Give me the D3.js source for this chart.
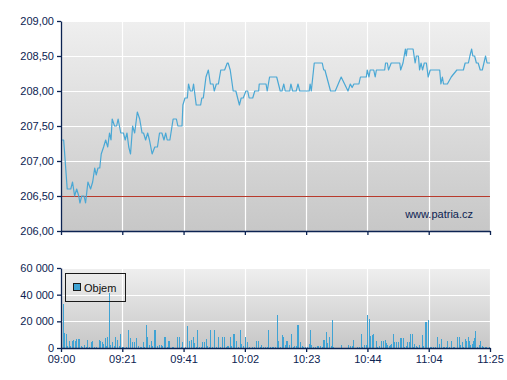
<!DOCTYPE html>
<html>
<head>
<meta charset="utf-8">
<script src="https://cdn.jsdelivr.net/npm/d3@7"></script>
<style>
    body { margin: 0; background: #ffffff; }
    svg { display: block; font-family: "Liberation Sans", Arial, sans-serif; }
</style>
</head>
<body>
<div id="chart"></div>
<script>
// x labels and ticks
var timeLabels = ["09:00", "09:21", "09:41", "10:02", "10:23", "10:44", "11:04", "11:25"];
var sessionMinutes = 145;
var priceTicks = [206, 206.5, 207, 207.5, 208, 208.5, 209];
var volumeTicks = [0, 20000, 40000, 60000];
var referencePrice = 206.5;

// price line, minutes after 09:00
var priceTimes = [0, 0.9, 2.1, 3.3, 3.9, 4.6, 5.3, 6.0, 6.4, 7.0, 7.8, 8.3, 9.1, 10.0, 10.7, 11.4, 11.9, 12.5, 13.1, 13.6,
    14.4, 15.1, 15.8, 16.4, 16.9, 17.3, 18.1, 18.8, 19.3, 20.2, 21.1, 21.7, 22.3, 22.9, 23.5, 24.2, 24.9, 25.8, 26.6, 27.4,
    27.9, 28.6, 29.3, 29.9, 30.8, 31.7, 32.6, 33.3, 34.1, 34.8, 35.4, 35.9, 36.8, 37.9, 39.0, 39.5, 40.9, 41.2, 41.9, 42.7,
    43.1, 43.7, 44.4, 44.8, 45.7, 47.2, 47.6, 48.1, 49.0, 49.8, 50.5, 51.4, 51.8, 52.5, 53.2, 54.0, 55.3, 56.2, 56.5, 57.2,
    58.2, 59.1, 60.3, 60.9, 61.6, 62.5, 63.1, 63.6, 64.8, 65.5, 66.8, 67.0, 69.3, 69.7, 70.5, 72.9, 74.1, 74.7, 75.3, 75.8,
    77.3, 77.7, 78.3, 79.5, 80.1, 80.7, 83.9, 84.2, 84.6, 85.6, 88.3, 88.8, 89.2, 91.1, 92.7, 94.7, 97.0, 97.8, 98.4, 99.0,
    100.7, 101.2, 103.2, 103.5, 104.1, 104.5, 105.7, 106.2, 106.6, 109.4, 109.7, 110.3, 110.7, 111.6, 114.5, 114.8, 115.6, 116.4, 116.7, 117.0,
    119.0, 119.7, 120.1, 120.8, 121.2, 121.7, 122.2, 122.8, 123.5, 124.1, 124.8, 128.0, 128.4, 128.9, 129.3, 130.6, 131.9, 133.8, 136.0, 136.6,
    137.7, 138.2, 138.8, 139.2, 139.8, 140.4, 141.0, 141.7, 142.4, 143.5, 144.0, 145.0];
var prices = [207.3, 207.3, 206.6, 206.6, 206.7, 206.5, 206.6, 206.5, 206.4, 206.5, 206.5, 206.4, 206.7, 206.6, 206.7, 206.9, 206.8, 206.9, 206.9, 207.1,
    207.2, 207.3, 207.2, 207.4, 207.3, 207.6, 207.5, 207.5, 207.6, 207.4, 207.4, 207.3, 207.4, 207.2, 207.1, 207.5, 207.4, 207.7, 207.6, 207.4,
    207.4, 207.3, 207.4, 207.3, 207.1, 207.2, 207.2, 207.4, 207.4, 207.3, 207.4, 207.3, 207.3, 207.6, 207.6, 207.5, 207.5, 207.8, 207.9, 207.9,
    208.1, 208.0, 208.0, 208.1, 207.8, 207.8, 207.9, 207.9, 208.2, 208.3, 208.1, 208.1, 208.0, 208.1, 208.1, 208.3, 208.3, 208.4, 208.4, 208.3,
    208.0, 208.0, 207.8, 207.9, 207.9, 208.0, 208.0, 207.9, 207.9, 208.0, 208.0, 208.1, 208.1, 208.0, 208.2, 208.2, 208.0, 208.0, 208.1, 208.0,
    208.0, 208.1, 208.0, 208.0, 208.1, 208.0, 208.0, 208.1, 208.0, 208.4, 208.4, 208.3, 208.3, 208.0, 208.0, 208.2, 208.0, 208.1, 208.05, 208.1,
    208.1, 208.2, 208.2, 208.3, 208.2, 208.3, 208.3, 208.2, 208.3, 208.3, 208.4, 208.4, 208.3, 208.4, 208.4, 208.3, 208.4, 208.6, 208.5, 208.6,
    208.6, 208.4, 208.5, 208.5, 208.3, 208.4, 208.3, 208.4, 208.4, 208.2, 208.3, 208.3, 208.1, 208.2, 208.1, 208.1, 208.2, 208.3, 208.3, 208.4,
    208.4, 208.5, 208.6, 208.5, 208.5, 208.4, 208.4, 208.3, 208.3, 208.5, 208.4, 208.4];

// volume bars, minutes after 09:00
var volumeTimes = [0.0, 0.8, 1.1, 1.7, 2.0, 2.7, 3.2, 3.8, 4.2, 4.7, 5.2, 5.9, 6.2, 6.8, 7.2, 7.8, 8.3, 8.9, 9.6, 10.1,
    10.5, 11.2, 11.9, 12.8, 13.2, 13.7, 14.2, 14.8, 15.3, 15.7, 16.3, 16.6, 17.2, 17.9, 18.4, 18.9, 19.5, 19.9, 20.6, 21.1,
    21.9, 22.8, 23.3, 24.0, 24.7, 25.2, 25.9, 26.6, 27.0, 27.6, 28.1, 28.6, 29.2, 29.7, 30.3, 30.8, 31.4, 31.8, 32.6, 33.1,
    33.7, 34.2, 34.8, 35.1, 35.7, 36.0, 36.5, 37.4, 37.9, 39.3, 39.8, 40.4, 41.0, 41.8, 42.7, 43.1, 43.8, 44.1, 44.7, 45.0,
    45.6, 46.0, 46.7, 47.2, 47.7, 48.2, 48.9, 49.3, 49.9, 50.3, 50.9, 51.8, 52.3, 53.1, 53.7, 54.5, 55.0, 55.7, 56.2, 56.6,
    57.0, 57.5, 58.1, 58.4, 59.2, 59.8, 60.5, 60.9, 61.5, 62.3, 62.9, 63.6, 64.4, 65.2, 65.9, 66.5, 67.1, 67.7, 68.3, 69.1,
    69.6, 70.0, 70.6, 71.2, 71.7, 72.4, 73.0, 73.4, 74.0, 74.7, 75.0, 75.7, 76.1, 76.5, 77.0, 77.7, 78.3, 78.7, 79.4, 79.7,
    80.1, 80.7, 81.3, 81.9, 82.4, 83.0, 83.8, 84.2, 84.6, 85.2, 85.9, 86.5, 87.0, 87.6, 88.1, 88.5, 88.8, 89.6, 90.0, 90.6,
    91.2, 91.7, 92.0, 94.8, 97.1, 97.7, 98.2, 98.6, 100.1, 100.7, 101.3, 101.8, 102.4, 103.0, 103.4, 104.2, 104.5, 105.2, 105.5, 106.3,
    106.8, 107.5, 108.2, 108.7, 109.4, 109.8, 110.3, 110.7, 111.3, 111.7, 112.3, 112.6, 113.3, 113.8, 114.6, 115.0, 115.5, 116.0, 116.6, 117.0,
    117.7, 118.0, 118.6, 119.1, 119.4, 120.0, 120.4, 121.1, 121.9, 122.3, 122.9, 123.2, 123.9, 124.2, 124.7, 125.1, 125.8, 126.5, 127.2, 127.7,
    128.3, 129.0, 129.4, 130.0, 130.6, 131.1, 131.9, 132.4, 133.0, 133.9, 134.4, 134.9, 135.5, 136.0, 136.5, 137.0, 137.5, 137.9, 138.2, 138.8,
    139.1, 139.6, 140.0, 140.5, 141.2, 141.6, 142.2, 142.7, 143.3, 143.8, 144.5];
var volumes = [5500, 33000, 11500, 10500, 1500, 5200, 1500, 5500, 6000, 5500, 6500, 6500, 6500, 1500, 700, 2200, 1000, 5700, 1000, 4200,
    5500, 700, 700, 6000, 5200, 4700, 3200, 7200, 1700, 8500, 41500, 2200, 4700, 1700, 8000, 6000, 1200, 10500, 700, 700,
    700, 13500, 7500, 4700, 4700, 7200, 1700, 500, 1000, 4500, 700, 17000, 8000, 2200, 5000, 1500, 13500, 13500, 1200, 2200,
    2200, 1500, 8000, 8000, 1000, 5200, 5200, 700, 700, 8000, 8000, 1000, 4500, 1000, 16500, 5500, 6000, 6000, 8000, 3500,
    1000, 13500, 700, 700, 4500, 4500, 6500, 1500, 1000, 13500, 1000, 13500, 1000, 8000, 700, 8000, 8000, 1000, 1500, 1500,
    8000, 1500, 10500, 10500, 5500, 1000, 13500, 3000, 1500, 8000, 4500, 700, 700, 1000, 5500, 5500, 1000, 2200, 700, 700,
    1000, 13500, 700, 700, 700, 700, 24700, 5500, 700, 9700, 8000, 2200, 5500, 5500, 2200, 10500, 1000, 1200, 1200, 17000,
    17000, 4500, 1200, 700, 700, 700, 3000, 13500, 2200, 1000, 1000, 1500, 1500, 1500, 1000, 6000, 6000, 11700, 4000, 8000,
    1500, 21000, 1000, 2200, 2000, 1500, 1500, 6000, 700, 700, 10500, 700, 2200, 2200, 24700, 21700, 9000, 9700, 10500, 5500,
    700, 1500, 5500, 5500, 6000, 3500, 2200, 1500, 2200, 2700, 10500, 4700, 4500, 4500, 7500, 7500, 7500, 700, 1500, 4500,
    4500, 10500, 10500, 1000, 3000, 1500, 700, 2000, 9700, 1500, 19700, 19700, 700, 21000, 700, 700, 700, 700, 8000, 3200,
    6500, 1000, 700, 700, 5500, 700, 5500, 700, 700, 8000, 8000, 2000, 4500, 700, 6500, 5500, 8000, 5500, 2500, 3000,
    5500, 7500, 13000, 1000, 2000, 5500, 1500, 1000, 700, 700, 1000];

var width = 507,
    height = 380;
var plotLeft = 61,
    plotRight = 490;
var priceTop = 21,
    priceBottom = 231,
    volumeTop = 268,
    volumeBottom = 348;
var navy = "#0c2352";

var locale = d3.formatLocale({decimal: ",", thousands: " ", grouping: [3], currency: ["", ""]});
var priceFormat = locale.format(".2f");
var volumeFormat = locale.format(",d");

var svg = d3.select("#chart").append("svg")
            .attr("width", width)
            .attr("height", height);

var defs = svg.append("defs");
var grad = defs.append("linearGradient")
            .attr("id", "panelGrad")
            .attr("x1", 0).attr("y1", 0)
            .attr("x2", 0).attr("y2", 1);
grad.append("stop").attr("offset", "0%").attr("stop-color", "#efefef");
grad.append("stop").attr("offset", "100%").attr("stop-color", "#c7c7c7");

var x = d3.scaleLinear()
            .domain([0, sessionMinutes])
            .range([plotLeft, plotRight]);
var timeTicks = timeLabels.map(function(d, i) {
    return i * sessionMinutes / (timeLabels.length - 1);
});
var yPrice = d3.scaleLinear()
            .domain([priceTicks[0], priceTicks[priceTicks.length - 1]])
            .range([priceBottom, priceTop]);
var yVolume = d3.scaleLinear()
            .domain([volumeTicks[0], volumeTicks[volumeTicks.length - 1]])
            .range([volumeBottom, volumeTop]);

/* panel backgrounds and grid */
function drawPanel(top, bottom, yScale, yTicks) {
    svg.append("rect")
        .attr("x", plotLeft)
        .attr("y", top)
        .attr("width", plotRight - plotLeft)
        .attr("height", bottom - top)
        .attr("fill", "url(#panelGrad)");
    var grid = svg.append("g").attr("stroke", "#ffffff").attr("stroke-width", 1.2);
    grid.selectAll(".hgrid")
        .data(yTicks.slice(1))
        .enter().append("line")
        .attr("x1", plotLeft).attr("x2", plotRight)
        .attr("y1", function(d) { return Math.round(yScale(d)) + 0.5; })
        .attr("y2", function(d) { return Math.round(yScale(d)) + 0.5; });
    grid.selectAll(".vgrid")
        .data(timeTicks.slice(1))
        .enter().append("line")
        .attr("y1", top).attr("y2", bottom)
        .attr("x1", function(d) { return Math.round(x(d)) + 0.5; })
        .attr("x2", function(d) { return Math.round(x(d)) + 0.5; });
}
drawPanel(priceTop, priceBottom, yPrice, priceTicks);
drawPanel(volumeTop, volumeBottom, yVolume, volumeTicks);

// reference line
svg.append("line")
    .attr("x1", plotLeft).attr("x2", plotRight)
    .attr("y1", Math.round(yPrice(referencePrice)) + 0.5)
    .attr("y2", Math.round(yPrice(referencePrice)) + 0.5)
    .attr("stroke", "#b83a2c")
    .attr("stroke-width", 1);

// price line
var line = d3.line()
            .x(function(d, i) { return x(priceTimes[i]); })
            .y(function(d) { return yPrice(d); });
svg.append("path")
    .datum(prices)
    .attr("d", line)
    .attr("fill", "none")
    .attr("stroke", "#4aa8d5")
    .attr("stroke-width", 1.2)
    .attr("stroke-linejoin", "round");

// volume bars
svg.append("g").selectAll("rect")
    .data(volumes)
    .enter().append("rect")
    .attr("x", function(d, i) { return Math.round(x(volumeTimes[i])); })
    .attr("y", function(d) { return yVolume(d); })
    .attr("width", 1)
    .attr("height", function(d) { return volumeBottom - yVolume(d); })
    .attr("fill", "#3fa3d4")
    .attr("shape-rendering", "crispEdges");

/* axes */
function styleAxis(g) {
    g.selectAll("path, line").attr("stroke", navy).attr("stroke-width", 1.3);
    g.selectAll("text")
        .attr("fill", navy)
        .style("font-size", "11px")
        .style("font-family", "'Liberation Sans', Arial, sans-serif");
}
svg.append("g")
    .attr("transform", "translate(" + plotLeft + ",0)")
    .call(d3.axisLeft(yPrice).tickValues(priceTicks).tickFormat(priceFormat).tickSize(4).tickSizeOuter(0).tickPadding(3))
    .call(styleAxis);
svg.append("g")
    .attr("transform", "translate(0," + priceBottom + ")")
    .call(d3.axisBottom(x).tickValues(timeTicks).tickFormat("").tickSize(4).tickSizeOuter(0))
    .call(styleAxis);
svg.append("g")
    .attr("transform", "translate(" + plotLeft + ",0)")
    .call(d3.axisLeft(yVolume).tickValues(volumeTicks).tickFormat(volumeFormat).tickSize(4).tickSizeOuter(0).tickPadding(3))
    .call(styleAxis);
svg.append("g")
    .attr("transform", "translate(0," + volumeBottom + ")")
    .call(d3.axisBottom(x).tickValues(timeTicks).tickFormat(function(d, i) { return timeLabels[i]; }).tickSize(4).tickSizeOuter(0).tickPadding(3))
    .call(styleAxis);

// watermark
svg.append("text")
    .attr("x", 473)
    .attr("y", 218)
    .attr("text-anchor", "end")
    .attr("fill", navy)
    .style("font-size", "11px")
    .text("www.patria.cz");

// legend
var legend = svg.append("g");
legend.append("rect")
    .attr("x", 65.5).attr("y", 273.5)
    .attr("width", 60).attr("height", 28)
    .attr("fill", "none")
    .attr("stroke", "#1a1a1a");
legend.append("rect")
    .attr("x", 73.5).attr("y", 283.5)
    .attr("width", 7).attr("height", 7)
    .attr("fill", "#3fa3d4")
    .attr("stroke", "#1a1a1a");
legend.append("text")
    .attr("x", 84)
    .attr("y", 292)
    .attr("fill", "#111111")
    .style("font-size", "11px")
    .text("Objem");
</script>
</body>
</html>
